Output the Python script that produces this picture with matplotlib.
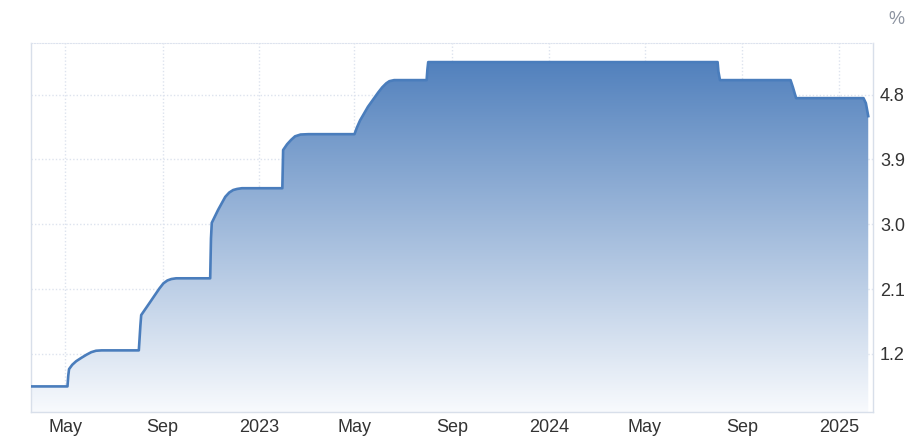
import numpy as np
import pandas as pd
import matplotlib
matplotlib.use("Agg")
import matplotlib.pyplot as plt
import matplotlib.dates as mdates
from matplotlib.colors import LinearSegmentedColormap

plt.rcParams['font.family'] = ['Liberation Sans', 'DejaVu Sans']

# rate path (%), points where the line changes
dates = ["2022-03-19", "2022-05-04", "2022-05-05", "2022-05-06", "2022-05-10", "2022-05-15",
         "2022-05-22", "2022-05-28", "2022-06-03", "2022-06-09", "2022-06-16",
         "2022-08-02", "2022-08-04", "2022-08-05", "2022-08-15", "2022-08-28", "2022-09-02",
         "2022-09-07", "2022-09-12", "2022-09-18",
         "2022-10-31", "2022-11-01", "2022-11-02", "2022-11-10", "2022-11-19", "2022-11-24",
         "2022-11-29", "2022-12-04", "2022-12-10",
         "2023-01-30", "2023-01-31", "2023-02-05", "2023-02-10", "2023-02-15", "2023-02-22",
         "2023-03-04",
         "2023-05-01", "2023-05-04", "2023-05-08", "2023-05-18", "2023-05-31", "2023-06-05",
         "2023-06-10", "2023-06-14", "2023-06-20",
         "2023-07-31", "2023-08-01", "2023-08-02",
         "2024-08-01", "2024-08-02", "2024-08-04",
         "2024-11-01", "2024-11-04", "2024-11-08",
         "2025-02-01", "2025-02-04", "2025-02-07"]
rates = [0.75, 0.75, 0.90, 0.99, 1.05, 1.10,
         1.15, 1.19, 1.225, 1.245, 1.25,
         1.25, 1.60, 1.74, 1.90, 2.11, 2.18,
         2.22, 2.24, 2.25,
         2.25, 2.80, 3.02, 3.20, 3.38, 3.44,
         3.475, 3.49, 3.50,
         3.50, 4.03, 4.11, 4.17, 4.22, 4.245,
         4.25,
         4.25, 4.34, 4.44, 4.63, 4.83, 4.90,
         4.955, 4.985, 5.00,
         5.00, 5.15, 5.25,
         5.25, 5.12, 5.00,
         5.00, 4.90, 4.75,
         4.75, 4.68, 4.50]

tick_dates = ["2022-05-01", "2022-09-01", "2023-01-01", "2023-05-01", "2023-09-01",
              "2024-01-01", "2024-05-01", "2024-09-01", "2025-01-01"]
tick_labels = ["May", "Sep", "2023", "May", "Sep", "2024", "May", "Sep", "2025"]
y_ticks = [1.2, 2.1, 3.0, 3.9, 4.8]

x = mdates.date2num(pd.to_datetime(dates))
y = np.array(rates)

fig = plt.figure(figsize=(9.19, 4.48), dpi=100)
ax = fig.add_axes([31 / 919, 1 - 412 / 448, (873 - 31) / 919, (412 - 43) / 448])

xlim = mdates.date2num(pd.to_datetime(["2022-03-19", "2025-02-13"]))
ylim = (0.395, 5.515)

# vertical gradient fill clipped to the area under the line
cmap = LinearSegmentedColormap.from_list("g", ["#f8fafd", "#5281bd"])
grad = np.linspace(0, 1, 256).reshape(-1, 1)
top = y.max()
img = ax.imshow(grad, cmap=cmap, aspect="auto", origin="lower",
                extent=[xlim[0], xlim[1], ylim[0], top], zorder=1, interpolation="bicubic")
poly = ax.fill_between(x, y, ylim[0], facecolor="none", edgecolor="none")
clip = poly.get_paths()[0]
img.set_clip_path(clip, transform=ax.transData)

ax.plot(x, y, color="#4a7dbc", lw=1.9, zorder=3, solid_joinstyle="round")

ax.set_xlim(*xlim)
ax.set_ylim(*ylim)

ax.set_xticks(mdates.date2num(pd.to_datetime(tick_dates)))
ax.set_xticklabels(tick_labels)
ax.set_yticks(y_ticks)
ax.set_yticklabels([f"{v:.1f}" for v in y_ticks])
ax.yaxis.tick_right()
ax.tick_params(axis="both", length=0, labelsize=13, colors="#333333")
ax.tick_params(axis="x", pad=5)
ax.tick_params(axis="y", pad=5)

ax.grid(True, color="#dde3ee", linestyle=(0, (1, 1.5)), lw=1, zorder=0)
ax.set_axisbelow(True)

for s in ["left", "right", "bottom"]:
    ax.spines[s].set_color("#d8dfea")
    ax.spines[s].set_linewidth(1)
ax.spines["top"].set_color("#dde3ee")
ax.spines["top"].set_linestyle((0, (1, 1.5)))

fig.text(896 / 919, 1 - 19 / 448, "%", ha="center", va="center", fontsize=13, color="#8c93a0")

fig.savefig("out.png", dpi=100)
